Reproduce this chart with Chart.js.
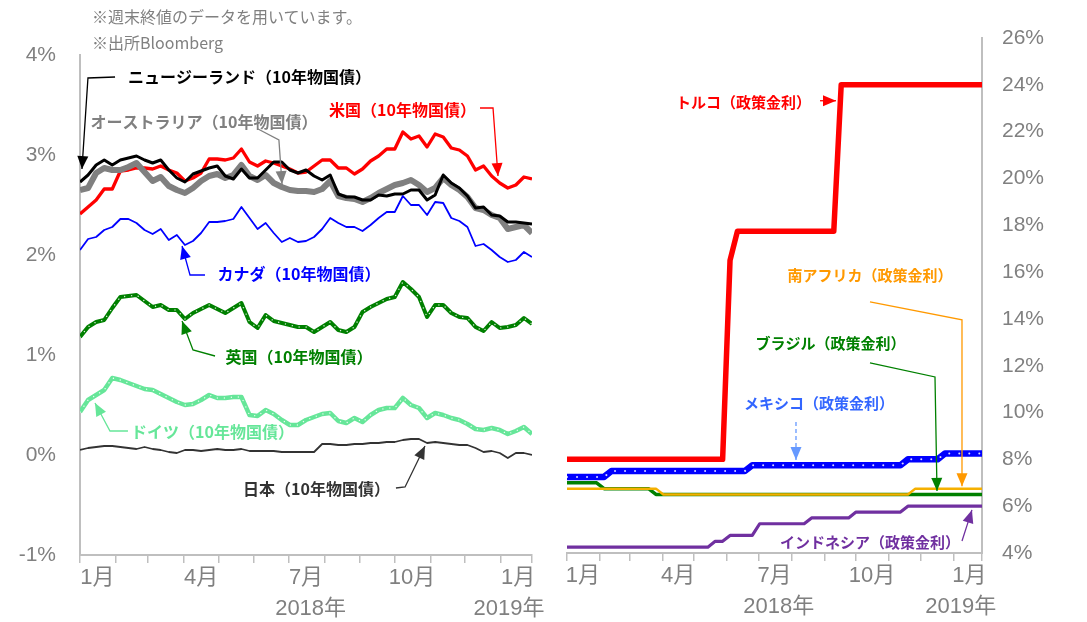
<!DOCTYPE html>
<html lang="ja">
<head>
<meta charset="utf-8">
<title>主要国の長期金利と新興国の政策金利</title>
<script src="https://cdn.jsdelivr.net/npm/chart.js@4.4.1/dist/chart.umd.min.js"></script>
<style>
  html, body { margin: 0; padding: 0; background: #fff; }
  #wrap { position: relative; width: 1087px; height: 622px; overflow: hidden; }
  #leftBox { position: absolute; left: 0; top: 0; width: 545px; height: 622px; }
  #rightBox { position: absolute; left: 545px; top: 0; width: 542px; height: 622px; }
  .note { position: absolute; left: 92px; font-size: 16px; line-height: 20px;
          font-family: "Noto Sans CJK JP", sans-serif; color: #808080; white-space: nowrap; }
</style>
</head>
<body>
<div id="wrap">
  <div id="leftBox"><canvas id="bondChart" width="545" height="622"></canvas></div>
  <div id="rightBox"><canvas id="policyChart" width="542" height="622"></canvas></div>
  <div class="note" style="top:6px">※週末終値のデータを用いています。</div>
  <div class="note" style="top:32px">※出所Bloomberg</div>
</div>
<script>
// 週次（週末終値）: 2018年1月第1週〜2019年1月第4週、57週
// x は 2018/1/1 からの日数
const weekDays = Array.from({ length: 57 }, (_, i) => i * 7);

// 月の区切り（目盛線）と軸ラベル
const monthTickDays = [0, 31, 59, 90, 120, 151, 181, 212, 243, 273, 304, 334, 365, 392];
const monthLabels = ['1月', '4月', '7月', '10月', '1月'];
const monthLabelDays = [15, 105, 196, 288, 380];
const yearLabels = ['2018年', '2019年'];
const yearLabelDays = [200, 372];

const leftTicks = [-1, 0, 1, 2, 3, 4];
const rightTicks = [4, 6, 8, 10, 12, 14, 16, 18, 20, 22, 24, 26];

// 10年物国債利回り（%）
const usYield = [
  2.41, 2.48, 2.55, 2.66, 2.66, 2.84, 2.85, 2.87, 2.87, 2.86,
  2.89, 2.85, 2.82, 2.74, 2.77, 2.82, 2.96, 2.96, 2.95, 2.97,
  3.06, 2.93, 2.89, 2.94, 2.92, 2.89, 2.86, 2.82, 2.83, 2.89,
  2.95, 2.95, 2.87, 2.87, 2.81, 2.86, 2.94, 2.99, 3.06, 3.06,
  3.23, 3.16, 3.19, 3.08, 3.21, 3.18, 3.07, 3.05, 2.99, 2.85,
  2.89, 2.79, 2.72, 2.67, 2.70, 2.78, 2.76
];
const nzYield = [
  2.73, 2.80, 2.90, 2.95, 2.90, 2.95, 2.97, 2.99, 2.95, 2.92,
  2.95, 2.85, 2.77, 2.73, 2.81, 2.84, 2.87, 2.89, 2.79, 2.76,
  2.86, 2.77, 2.77, 2.85, 2.93, 2.93, 2.85, 2.82, 2.85, 2.79,
  2.75, 2.80, 2.61, 2.58, 2.58, 2.55, 2.55, 2.60, 2.59, 2.61,
  2.61, 2.65, 2.65, 2.55, 2.60, 2.80, 2.72, 2.67, 2.59, 2.47,
  2.48, 2.40, 2.39, 2.33, 2.33, 2.32, 2.31
];
const auYield = [
  2.65, 2.67, 2.82, 2.87, 2.85, 2.85, 2.88, 2.92, 2.83, 2.74,
  2.78, 2.69, 2.65, 2.62, 2.67, 2.74, 2.79, 2.81, 2.77, 2.80,
  2.90, 2.79, 2.75, 2.80, 2.72, 2.68, 2.65, 2.64, 2.64, 2.63,
  2.66, 2.74, 2.59, 2.57, 2.56, 2.53, 2.57, 2.62, 2.66, 2.70,
  2.72, 2.75, 2.70, 2.63, 2.67, 2.77, 2.70, 2.65, 2.58, 2.47,
  2.45, 2.40, 2.37, 2.26, 2.28, 2.30, 2.22
];
const caYield = [
  2.05, 2.16, 2.18, 2.25, 2.28, 2.36, 2.36, 2.32, 2.25, 2.21,
  2.26, 2.15, 2.20, 2.10, 2.14, 2.22, 2.33, 2.33, 2.34, 2.36,
  2.48, 2.37, 2.26, 2.32, 2.22, 2.13, 2.17, 2.13, 2.14, 2.18,
  2.26, 2.37, 2.32, 2.28, 2.28, 2.24, 2.30, 2.37, 2.43, 2.43,
  2.59, 2.50, 2.50, 2.40, 2.53, 2.52, 2.37, 2.34, 2.28, 2.09,
  2.11, 2.05, 1.98, 1.93, 1.95, 2.03, 1.98
];
const ukYield = [
  1.18, 1.28, 1.33, 1.35, 1.47, 1.58, 1.59, 1.60, 1.54, 1.48,
  1.50, 1.45, 1.45, 1.36, 1.42, 1.46, 1.50, 1.46, 1.42, 1.47,
  1.52, 1.33, 1.27, 1.40, 1.34, 1.32, 1.30, 1.28, 1.28, 1.23,
  1.28, 1.33, 1.25, 1.23, 1.28, 1.43, 1.48, 1.52, 1.56, 1.58,
  1.73, 1.66, 1.58, 1.38, 1.50, 1.50, 1.42, 1.38, 1.37, 1.28,
  1.24, 1.33, 1.27, 1.28, 1.30, 1.37, 1.31
];
const deYield = [
  0.43, 0.55, 0.60, 0.65, 0.77, 0.75, 0.72, 0.69, 0.66, 0.65,
  0.61, 0.57, 0.53, 0.50, 0.51, 0.55, 0.60, 0.57, 0.57, 0.58,
  0.58, 0.40, 0.39, 0.45, 0.41, 0.35, 0.30, 0.30, 0.35, 0.38,
  0.41, 0.42, 0.34, 0.32, 0.37, 0.33, 0.40, 0.45, 0.47, 0.47,
  0.57, 0.50, 0.47, 0.37, 0.42, 0.40, 0.37, 0.35, 0.31, 0.26,
  0.25, 0.27, 0.25, 0.21, 0.24, 0.28, 0.21
];
const jpYield = [
  0.05, 0.07, 0.08, 0.09, 0.09, 0.08, 0.07, 0.06, 0.08, 0.06,
  0.05, 0.03, 0.02, 0.05, 0.05, 0.04, 0.05, 0.06, 0.05, 0.05,
  0.06, 0.04, 0.04, 0.04, 0.04, 0.03, 0.03, 0.03, 0.03, 0.03,
  0.11, 0.11, 0.10, 0.10, 0.11, 0.11, 0.12, 0.12, 0.13, 0.13,
  0.15, 0.16, 0.16, 0.12, 0.13, 0.12, 0.11, 0.10, 0.10, 0.07,
  0.03, 0.04, 0.02, -0.03, 0.02, 0.02, 0.00
];

// 政策金利（%）
const turkeyRate = [
  8, 8, 8, 8, 8, 8, 8, 8, 8, 8,
  8, 8, 8, 8, 8, 8, 8, 8, 8, 8,
  8, 8, 16.5, 17.75, 17.75, 17.75, 17.75, 17.75, 17.75, 17.75,
  17.75, 17.75, 17.75, 17.75, 17.75, 17.75, 17.75, 24, 24, 24,
  24, 24, 24, 24, 24, 24, 24, 24, 24, 24,
  24, 24, 24, 24, 24, 24, 24
];
const mexicoRate = [
  7.25, 7.25, 7.25, 7.25, 7.25, 7.25, 7.5, 7.5, 7.5, 7.5,
  7.5, 7.5, 7.5, 7.5, 7.5, 7.5, 7.5, 7.5, 7.5, 7.5,
  7.5, 7.5, 7.5, 7.5, 7.5, 7.75, 7.75, 7.75, 7.75, 7.75,
  7.75, 7.75, 7.75, 7.75, 7.75, 7.75, 7.75, 7.75, 7.75, 7.75,
  7.75, 7.75, 7.75, 7.75, 7.75, 7.75, 8, 8, 8, 8,
  8, 8.25, 8.25, 8.25, 8.25, 8.25, 8.25
];
const brazilRate = [
  7, 7, 7, 7, 7, 6.75, 6.75, 6.75, 6.75, 6.75,
  6.75, 6.75, 6.5, 6.5, 6.5, 6.5, 6.5, 6.5, 6.5, 6.5,
  6.5, 6.5, 6.5, 6.5, 6.5, 6.5, 6.5, 6.5, 6.5, 6.5,
  6.5, 6.5, 6.5, 6.5, 6.5, 6.5, 6.5, 6.5, 6.5, 6.5,
  6.5, 6.5, 6.5, 6.5, 6.5, 6.5, 6.5, 6.5, 6.5, 6.5,
  6.5, 6.5, 6.5, 6.5, 6.5, 6.5, 6.5
];
const safricaRate = [
  6.75, 6.75, 6.75, 6.75, 6.75, 6.75, 6.75, 6.75, 6.75, 6.75,
  6.75, 6.75, 6.75, 6.5, 6.5, 6.5, 6.5, 6.5, 6.5, 6.5,
  6.5, 6.5, 6.5, 6.5, 6.5, 6.5, 6.5, 6.5, 6.5, 6.5,
  6.5, 6.5, 6.5, 6.5, 6.5, 6.5, 6.5, 6.5, 6.5, 6.5,
  6.5, 6.5, 6.5, 6.5, 6.5, 6.5, 6.5, 6.75, 6.75, 6.75,
  6.75, 6.75, 6.75, 6.75, 6.75, 6.75, 6.75
];
const indonesiaRate = [
  4.25, 4.25, 4.25, 4.25, 4.25, 4.25, 4.25, 4.25, 4.25, 4.25,
  4.25, 4.25, 4.25, 4.25, 4.25, 4.25, 4.25, 4.25, 4.25, 4.25,
  4.5, 4.5, 4.75, 4.75, 4.75, 4.75, 5.25, 5.25, 5.25, 5.25,
  5.25, 5.25, 5.25, 5.5, 5.5, 5.5, 5.5, 5.5, 5.5, 5.75,
  5.75, 5.75, 5.75, 5.75, 5.75, 5.75, 6, 6, 6, 6,
  6, 6, 6, 6, 6, 6, 6
];

// 吹き出し（位置は各グラフのデータ座標: [日数, %]）
const leftCallouts = [
  { text: 'ニュージーランド（10年物国債）', color: '#000000', at: [147, 3.78], path: [[30.4, 3.78], [6.9, 3.77], [1.7, 2.86]] },
  { text: 'オーストラリア（10年物国債）', color: '#808080', at: [107.5, 3.33], path: [[154.4, 3.26], [172.5, 3.15], [175.2, 2.71]] },
  { text: '米国（10年物国債）', color: '#ff0000', at: [279.7, 3.45], path: [[346.9, 3.47], [358.2, 3.47], [362.5, 2.79]] },
  { text: 'カナダ（10年物国債）', color: '#0000ff', at: [189.9, 1.81], path: [[108.4, 1.80], [95.4, 1.80], [88.5, 2.09]] },
  { text: '英国（10年物国債）', color: '#008000', at: [189.9, 0.98], path: [[117.1, 0.99], [98.0, 1.05], [88.5, 1.34]] },
  { text: 'ドイツ（10年物国債）', color: '#66e699', at: [114.9, 0.23], path: [[41.6, 0.24], [26.0, 0.24], [13.0, 0.52]] },
  { text: '日本（10年物国債）', color: '#333333', at: [205.1, -0.34], path: [[274, -0.33], [281.9, -0.32], [299.2, 0.09]] }
];
const rightCallouts = [
  { text: 'トルコ（政策金利）', color: '#ff0000', at: [166.7, 23.27], path: [[239.0, 23.32], [254.1, 23.32]] },
  { text: '南アフリカ（政策金利）', color: '#ff9900', at: [286.2, 15.88], path: [[286.2, 14.73], [373.1, 13.96], [373.1, 6.85]] },
  { text: 'ブラジル（政策金利）', color: '#008000', at: [248.9, 12.97], path: [[286.2, 12.12], [347.6, 11.52], [349.5, 6.65]] },
  { text: 'メキシコ（政策金利）', color: '#3366ff', at: [238, 10.41], path: [[216.3, 9.60], [216.3, 7.97]], dash: true, lineColor: '#6699ff' },
  { text: 'インドネシア（政策金利）', color: '#7030a0', at: [286.2, 4.47], path: [[373.1, 4.51], [378, 5.2], [382.5, 5.84]] }
];

const GRAY = '#808080';
const AXIS = '#bfbfbf';
const LATIN = '"Liberation Sans", "Noto Sans CJK JP", sans-serif';

function drawArrow(ctx, pts, color, dash) {
  ctx.save();
  ctx.strokeStyle = color;
  ctx.fillStyle = color;
  ctx.lineWidth = 1.3;
  if (dash) ctx.setLineDash([4, 3]);
  ctx.beginPath();
  pts.forEach((p, i) => (i ? ctx.lineTo(p[0], p[1]) : ctx.moveTo(p[0], p[1])));
  ctx.stroke();
  ctx.setLineDash([]);
  const a = pts[pts.length - 2], b = pts[pts.length - 1];
  const ang = Math.atan2(b[1] - a[1], b[0] - a[0]);
  const len = 13, half = 5.5;
  ctx.beginPath();
  ctx.moveTo(b[0], b[1]);
  ctx.lineTo(b[0] - len * Math.cos(ang) + half * Math.sin(ang), b[1] - len * Math.sin(ang) - half * Math.cos(ang));
  ctx.lineTo(b[0] - len * Math.cos(ang) - half * Math.sin(ang), b[1] - len * Math.sin(ang) + half * Math.cos(ang));
  ctx.closePath();
  ctx.fill();
  ctx.restore();
}

// 月・年ラベルと吹き出しを描く
const calloutPlugin = {
  id: 'callouts',
  afterDraw(chart, args, opts) {
    const ctx = chart.ctx;
    const xs = chart.scales.x, ys = chart.scales.y;
    const px = d => xs.getPixelForValue(d);
    const py = v => ys.getPixelForValue(v);
    const base = chart.chartArea.bottom;
    ctx.save();
    ctx.textAlign = 'center';
    ctx.textBaseline = 'middle';
    ctx.fillStyle = GRAY;
    ctx.font = '22px ' + LATIN;
    monthLabels.forEach((t, i) => ctx.fillText(t, px(monthLabelDays[i]), base + 23));
    yearLabels.forEach((t, i) => ctx.fillText(t, px(yearLabelDays[i]), base + 54));

    ctx.font = 'bold ' + opts.fontSize + 'px "Noto Sans CJK JP", sans-serif';
    opts.items.forEach(c => {
      ctx.fillStyle = c.color;
      ctx.fillText(c.text, px(c.at[0]), py(c.at[1]));
      drawArrow(ctx, c.path.map(p => [px(p[0]), py(p[1])]), c.lineColor || c.color, c.dash);
    });
    ctx.restore();
  }
};

function line(label, values, color, width, extra) {
  return Object.assign({
    label: label,
    data: values.map((v, i) => ({ x: weekDays[i], y: v })),
    borderColor: color,
    borderWidth: width,
    pointRadius: 0,
    tension: 0,
    fill: false,
    borderJoinStyle: 'round'
  }, extra || {});
}

// 白い点線の重ね描き
function dots(label, values, width, gap) {
  return line(label + '・点', values, 'rgba(255,255,255,0.85)', width,
    { borderDash: [0.01, gap], borderCapStyle: 'round' });
}

function xScale(height) {
  return {
    type: 'linear', min: 0, max: 392,
    afterBuildTicks: axis => { axis.ticks = monthTickDays.map(v => ({ value: v })); },
    ticks: { callback: () => '', autoSkip: false, padding: 0 },
    grid: { drawOnChartArea: false, drawTicks: true, tickLength: 8, color: AXIS, lineWidth: 1.5 },
    border: { display: true, color: AXIS, width: 2 },
    afterFit: axis => { axis.height = height; }
  };
}

function yScale(pos, min, max, tickList, width) {
  return {
    position: pos, min: min, max: max,
    afterBuildTicks: axis => { axis.ticks = tickList.map(v => ({ value: v })); },
    ticks: { callback: v => v + '%', color: GRAY, font: { size: 21, family: LATIN }, padding: pos === 'left' ? 24 : 20 },
    grid: { drawOnChartArea: false, drawTicks: false },
    border: { display: true, color: AXIS, width: 2 },
    afterFit: axis => { axis.width = width; }
  };
}

function baseOptions(padding, scales, callouts, fontSize) {
  return {
    responsive: false,
    animation: false,
    devicePixelRatio: 1,
    layout: { padding: padding },
    scales: scales,
    plugins: {
      legend: { display: false },
      tooltip: { enabled: false },
      callouts: { items: callouts, fontSize: fontSize }
    }
  };
}

// 左: 主要国の10年物国債利回り（先頭ほど手前に描かれる）
new Chart(document.getElementById('bondChart'), {
  type: 'line',
  data: {
    datasets: [
      dots('英国', ukYield, 1.4, 7),
      line('英国', ukYield, '#008000', 4),
      dots('ドイツ', deYield, 1.4, 7),
      line('ドイツ', deYield, '#66e699', 4.5),
      line('日本', jpYield, '#333333', 1.8),
      line('カナダ', caYield, '#0000ff', 1.8),
      line('ニュージーランド', nzYield, '#000000', 3),
      line('オーストラリア', auYield, '#808080', 6),
      line('米国', usYield, '#ff0000', 3.3)
    ]
  },
  options: baseOptions({ top: 55, right: 13, left: 0, bottom: 0 },
    { x: xScale(67), y: yScale('left', -1, 4, leftTicks, 80) }, leftCallouts, 16),
  plugins: [calloutPlugin]
});

// 右: 新興国の政策金利
new Chart(document.getElementById('policyChart'), {
  type: 'line',
  data: {
    datasets: [
      line('トルコ', turkeyRate, '#ff0000', 5.5),
      dots('メキシコ', mexicoRate, 2, 10),
      line('メキシコ', mexicoRate, '#0000ff', 6.5),
      line('南アフリカ', safricaRate, '#f5b000', 2.5),
      line('ブラジル', brazilRate, '#008000', 3.5),
      line('インドネシア', indonesiaRate, '#7030a0', 3.2)
    ]
  },
  options: baseOptions({ top: 38, right: 0, left: 22, bottom: 0 },
    { x: xScale(69), y: yScale('right', 4, 26, rightTicks, 105) }, rightCallouts, 15),
  plugins: [calloutPlugin]
});
</script>
</body>
</html>
